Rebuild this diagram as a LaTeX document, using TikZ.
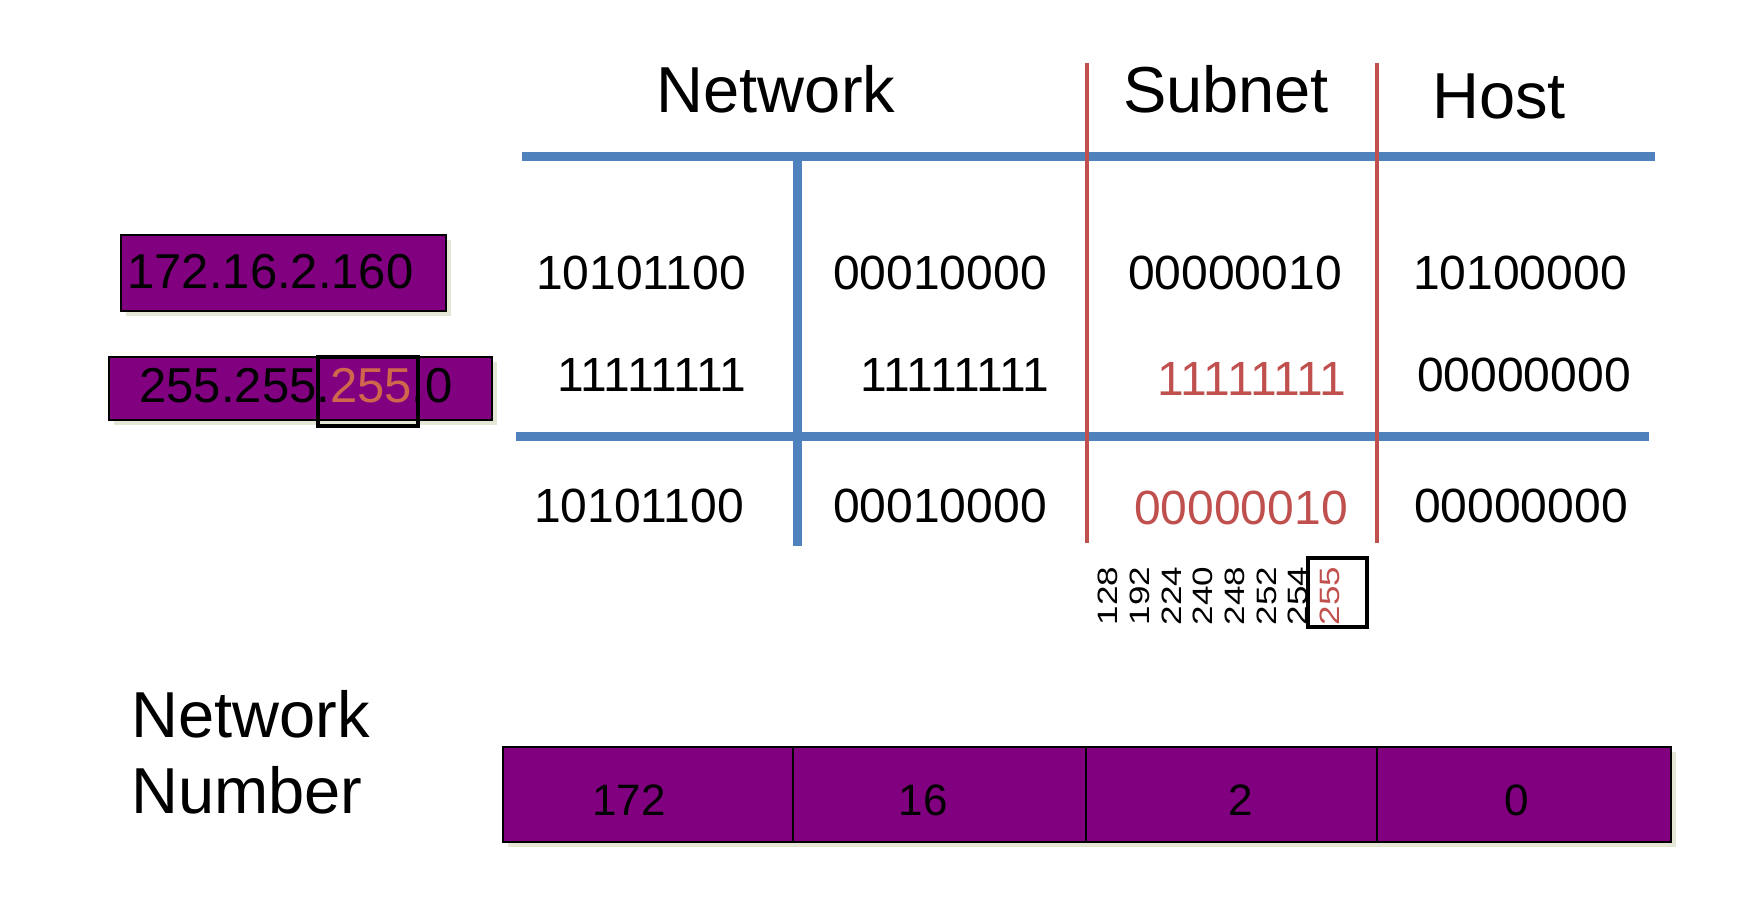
\documentclass[tikz,border=0pt]{standalone}
\usepackage{fontspec}
\setmainfont{Liberation Sans}
\usepackage{graphicx}

\definecolor{netblue}{RGB}{79,129,189}
\definecolor{netred}{RGB}{192,80,77}
\definecolor{netpurple}{RGB}{128,0,128}
\definecolor{maskorange}{RGB}{208,102,75}
\definecolor{shadowgray}{RGB}{228,230,214}

\tikzset{
  heading/.style={anchor=base, inner sep=0pt, font=\fontsize{32.5}{39}\selectfont},
  bits/.style={anchor=base, inner sep=0pt, font=\fontsize{24}{29}\selectfont},
  addr/.style={anchor=base west, inner sep=0pt, font=\fontsize{24.5}{29}\selectfont},
  octet/.style={anchor=base, inner sep=0pt, font=\fontsize{22}{26}\selectfont},
  maskval/.style={rotate=90, inner sep=0pt, font=\fontsize{17.5}{20}\selectfont},
  blueline/.style={netblue, line width=4.5pt},
  redline/.style={netred, line width=2.2pt},
  addrbox/.style={fill=netpurple, draw=black, line width=0.8pt},
  shade/.style={fill=shadowgray},
  markbox/.style={draw=black, line width=2pt}
}

\begin{document}
\begin{tikzpicture}[x=0.5pt, y=-0.5pt]
\useasboundingbox (0,0) rectangle (1764,900);

% grid lines
\draw[blueline] (522,156) -- (1655,156);
\draw[blueline] (516,436) -- (1649,436);
\draw[blueline] (797,156) -- (797,546);
\draw[redline] (1087,63) -- (1087,543);
\draw[redline] (1377,63) -- (1377,543);

% headings
\node[heading] (hnet) at (776,112) {Network};
\node[heading] (hsub) at (1226,112) {Subnet};
\node[heading] (hhost) at (1499,118) {Host};

% address, mask and result rows
\node[bits] (a1) at (641,289) {10101100};
\node[bits] (a2) at (940,289) {00010000};
\node[bits] (a3) at (1235,289) {00000010};
\node[bits] (a4) at (1520,289) {10100000};

\node[bits] (m1) at (652,391) {11111111};
\node[bits] (m2) at (955,391) {11111111};
\node[bits, text=netred] (m3) at (1252,395) {11111111};
\node[bits] (m4) at (1524,391) {00000000};

\node[bits] (r1) at (639,522) {10101100};
\node[bits] (r2) at (940,522) {00010000};
\node[bits, text=netred] (r3) at (1241,524) {00000010};
\node[bits] (r4) at (1521,522) {00000000};

% dotted decimal boxes
\fill[shade] (126,240) rectangle (451,316);
\draw[addrbox] (121,235) rectangle (446,311);
\node[addr] (ip) at (127,288) {172.16.2.160};

\fill[shade] (114,362) rectangle (497,425);
\draw[addrbox] (109,357) rectangle (492,420);
\node[addr] (mask) at (139,402) {255.255.\textcolor{maskorange}{255}.0};
\draw[markbox] (318,357) rectangle (418,426);

% possible mask values
\foreach \v [count=\i] in {128,192,224,240,248,252,254} {
  \node[maskval] (mv\v) at ({1108+31.7*(\i-1)},596) {\scalebox{1}[0.8]{\v}};
}
\node[maskval, text=netred] (mv255) at (1330,596) {\scalebox{1}[0.8]{255}};
\draw[markbox] (1308,558) rectangle (1367,627);

% network number
\node[heading, anchor=base west] (nn1) at (131,737) {Network};
\node[heading, anchor=base west] (nn2) at (131,813) {Number};

\fill[shade] (508,752) rectangle (1676,847);
\draw[addrbox] (503,747) rectangle (1671,842);
\foreach \x in {793,1086,1377} {
  \draw[black, line width=0.8pt] (\x,747) -- (\x,842);
}
\node[octet] (o1) at (629,815) {172};
\node[octet] (o2) at (923,815) {16};
\node[octet] (o3) at (1241,815) {2};
\node[octet] (o4) at (1517,815) {0};
\end{tikzpicture}
\end{document}
